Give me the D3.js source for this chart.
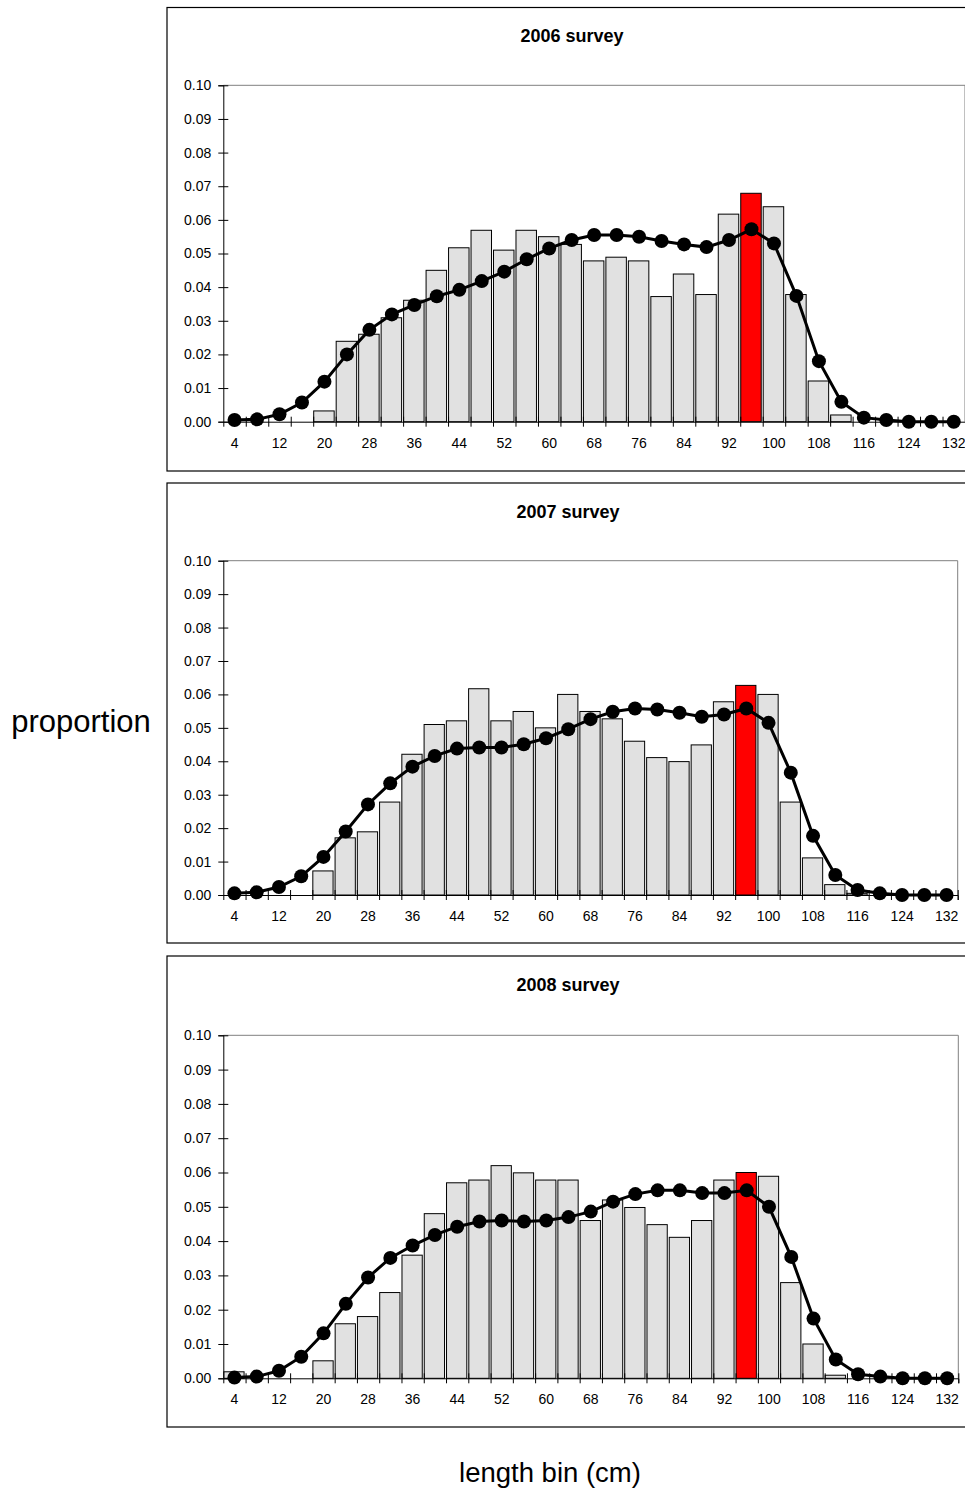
<!DOCTYPE html>
<html>
<head>
<meta charset="utf-8">
<script src="https://cdn.jsdelivr.net/npm/d3@7"></script>
<style>
  body { margin: 0; background: #fff; }
  text { font-family: Arial, "Liberation Sans", sans-serif; }
</style>
</head>
<body>
<div id="chart"></div>
<script>
// length bins (cm)
var bins = [4, 8, 12, 16, 20, 24, 28, 32, 36, 40, 44, 48, 52, 56, 60, 64, 68,
  72, 76, 80, 84, 88, 92, 96, 100, 104, 108, 112, 116, 120, 124, 128, 132];
var xTickLabels = [4, 12, 20, 28, 36, 44, 52, 60, 68, 76, 84, 92, 100, 108, 116, 124, 132];
var yTicks = [0, 0.01, 0.02, 0.03, 0.04, 0.05, 0.06, 0.07, 0.08, 0.09, 0.10];
var titles = ["2006 survey", "2007 survey", "2008 survey"];
var highlightBin = 96;

// observed proportions (bars)
var observed2006 = [0, 0, 0, 0, 0.0032, 0.0239, 0.026, 0.0309, 0.0361, 0.045, 0.0517,
  0.0569, 0.051, 0.0569, 0.055, 0.0527, 0.0478, 0.0489, 0.0478, 0.0372, 0.0439,
  0.0378, 0.0617, 0.0679, 0.0639, 0.0378, 0.0121, 0.002, 0, 0, 0, 0, 0];
var observed2007 = [0, 0, 0, 0, 0.0072, 0.0171, 0.0189, 0.0278, 0.0421, 0.051, 0.0521,
  0.0617, 0.0521, 0.0549, 0.05, 0.06, 0.0549, 0.0527, 0.046, 0.0411, 0.0399,
  0.0449, 0.0578, 0.0627, 0.06, 0.0278, 0.0111, 0.0031, 0.0005, 0, 0, 0, 0];
var observed2008 = [0.0019, 0, 0, 0, 0.0051, 0.0159, 0.018, 0.025, 0.0359, 0.048, 0.057,
  0.0578, 0.062, 0.0599, 0.0578, 0.0578, 0.046, 0.052, 0.0498, 0.0448, 0.0411,
  0.046, 0.0578, 0.06, 0.0589, 0.0279, 0.01, 0.0009, 0, 0, 0, 0, 0];

// model fit (line with dots)
var expected2006 = [0.0005, 0.0007, 0.0022, 0.0057, 0.0119, 0.020, 0.0273, 0.0319, 0.0347,
  0.0373, 0.0392, 0.0418, 0.0446, 0.0483, 0.0515, 0.054, 0.0555, 0.0555, 0.055,
  0.0537, 0.0527, 0.0519, 0.054, 0.0572, 0.053, 0.0374, 0.018, 0.0059, 0.0012,
  0.0005, 0, 0, 0];
var expected2007 = [0.0005, 0.0008, 0.0024, 0.0056, 0.0114, 0.019, 0.0271, 0.0334, 0.0384,
  0.0416, 0.0438, 0.0441, 0.0441, 0.0451, 0.0469, 0.0496, 0.0526, 0.0548, 0.0558,
  0.0555, 0.0545, 0.0533, 0.054, 0.0558, 0.0515, 0.0366, 0.0177, 0.006, 0.0015,
  0.0005, 0, 0, 0];
var expected2008 = [0.0002, 0.0005, 0.0022, 0.0063, 0.0131, 0.0217, 0.0294, 0.0351, 0.0387,
  0.0418, 0.0442, 0.0457, 0.046, 0.0457, 0.046, 0.047, 0.0486, 0.0515, 0.0537,
  0.0548, 0.0548, 0.054, 0.054, 0.0548, 0.05, 0.0354, 0.0174, 0.0055, 0.0012,
  0.0005, 0, 0, 0];

var observed = [observed2006, observed2007, observed2008];
var expected = [expected2006, expected2007, expected2008];

// panel layout (outer box + plot area)
var panels = [
  { box: { x: 167, y: 7.5, w: 810, h: 463.5 }, plot: { left: 223.3, right: 965, top: 85.3, bottom: 421.7 } },
  { box: { x: 167, y: 483, w: 802, h: 460 }, plot: { left: 223.3, right: 957.7, top: 560.7, bottom: 895 } },
  { box: { x: 167, y: 956, w: 802, h: 471 }, plot: { left: 223.3, right: 958.3, top: 1035.3, bottom: 1378.3 } }
];

var svgWidth = 965;
var svgHeight = 1495;

var svg = d3.select("#chart")
  .append("svg")
  .attr("width", svgWidth)
  .attr("height", svgHeight);

panels.forEach(function (p, i) {
  var g = svg.append("g");

  // outer frame
  g.append("rect")
    .attr("x", p.box.x)
    .attr("y", p.box.y)
    .attr("width", p.box.w)
    .attr("height", p.box.h)
    .attr("fill", "#fff")
    .attr("stroke", "#000")
    .attr("stroke-width", 1.2);

  // title
  g.append("text")
    .attr("x", p.box.x + p.box.w / 2)
    .attr("y", p.box.y + 34.5)
    .attr("text-anchor", "middle")
    .attr("font-size", "18px")
    .attr("font-weight", "bold")
    .text(titles[i]);

  // scales
  var xBand = d3.scaleBand()
    .domain(bins)
    .range([p.plot.left, p.plot.right])
    .padding(0);

  var xEdge = d3.scaleLinear()
    .domain([0, bins.length])
    .range([p.plot.left, p.plot.right]);

  var y = d3.scaleLinear()
    .domain([0, 0.10])
    .range([p.plot.bottom, p.plot.top]);

  // plot frame (top + right, grey)
  g.append("path")
    .attr("d", "M" + p.plot.left + "," + y(0.10) + "H" + p.plot.right + "V" + y(0))
    .attr("fill", "none")
    .attr("stroke", "#808080")
    .attr("stroke-width", 1);

  // bars
  var bw = xBand.bandwidth();
  var barData = bins.map(function (b, k) { return { bin: b, v: observed[i][k] }; })
    .filter(function (d) { return d.v > 0; });

  g.selectAll("rect.bar")
    .data(barData)
    .enter()
    .append("rect")
    .attr("class", "bar")
    .attr("x", function (d) { return xBand(d.bin) + 0.5; })
    .attr("y", function (d) { return y(d.v); })
    .attr("width", bw - 2)
    .attr("height", function (d) { return y(0) - y(d.v); })
    .attr("fill", function (d) { return d.bin === highlightBin ? "#ff0000" : "#e1e1e1"; })
    .attr("stroke", "#000")
    .attr("stroke-width", 1);

  // y axis
  var yAxis = g.append("g")
    .attr("transform", "translate(" + p.plot.left + ",0)")
    .call(d3.axisLeft(y)
      .tickValues(yTicks)
      .tickFormat(d3.format(".2f"))
      .tickSizeOuter(0)
      .tickSize(5)
      .tickPadding(7));
  yAxis.selectAll(".tick line").attr("x1", 5).attr("stroke", "#000");
  yAxis.select(".domain").attr("stroke", "#000");
  yAxis.selectAll("text").attr("font-size", "14px").attr("font-family", "Arial, 'Liberation Sans', sans-serif").attr("fill", "#000");

  // x axis: tick marks between bins
  var xTicks = g.append("g")
    .attr("transform", "translate(0," + p.plot.bottom + ")")
    .call(d3.axisBottom(xEdge)
      .tickValues(d3.range(1, bins.length + 1))
      .tickFormat("")
      .tickSizeOuter(0)
      .tickSize(5));
  xTicks.selectAll(".tick line").attr("y1", -5).attr("stroke", "#000");
  xTicks.select(".domain").attr("stroke", "#000");

  // x axis: labels under every other bin
  var xLabels = g.append("g")
    .attr("transform", "translate(0," + p.plot.bottom + ")")
    .call(d3.axisBottom(xBand)
      .tickValues(xTickLabels)
      .tickSize(0)
      .tickPadding(16));
  xLabels.select(".domain").remove();
  xLabels.selectAll("text").attr("font-size", "14px").attr("font-family", "Arial, 'Liberation Sans', sans-serif").attr("fill", "#000");

  // model line + dots
  var lineData = bins.map(function (b, k) { return { bin: b, v: expected[i][k] }; });
  var line = d3.line()
    .x(function (d) { return xBand(d.bin) + bw / 2; })
    .y(function (d) { return y(d.v); });

  g.append("path")
    .datum(lineData)
    .attr("d", line)
    .attr("fill", "none")
    .attr("stroke", "#000")
    .attr("stroke-width", 3);

  g.selectAll("circle.dot")
    .data(lineData)
    .enter()
    .append("circle")
    .attr("class", "dot")
    .attr("cx", function (d) { return xBand(d.bin) + bw / 2; })
    .attr("cy", function (d) { return y(d.v); })
    .attr("r", 7)
    .attr("fill", "#000");
});

// axis titles
svg.append("text")
  .attr("x", 81)
  .attr("y", 732)
  .attr("text-anchor", "middle")
  .attr("font-size", "31px")
  .text("proportion");

svg.append("text")
  .attr("x", 550)
  .attr("y", 1482)
  .attr("text-anchor", "middle")
  .attr("font-size", "27.5px")
  .text("length bin (cm)");
</script>
</body>
</html>
